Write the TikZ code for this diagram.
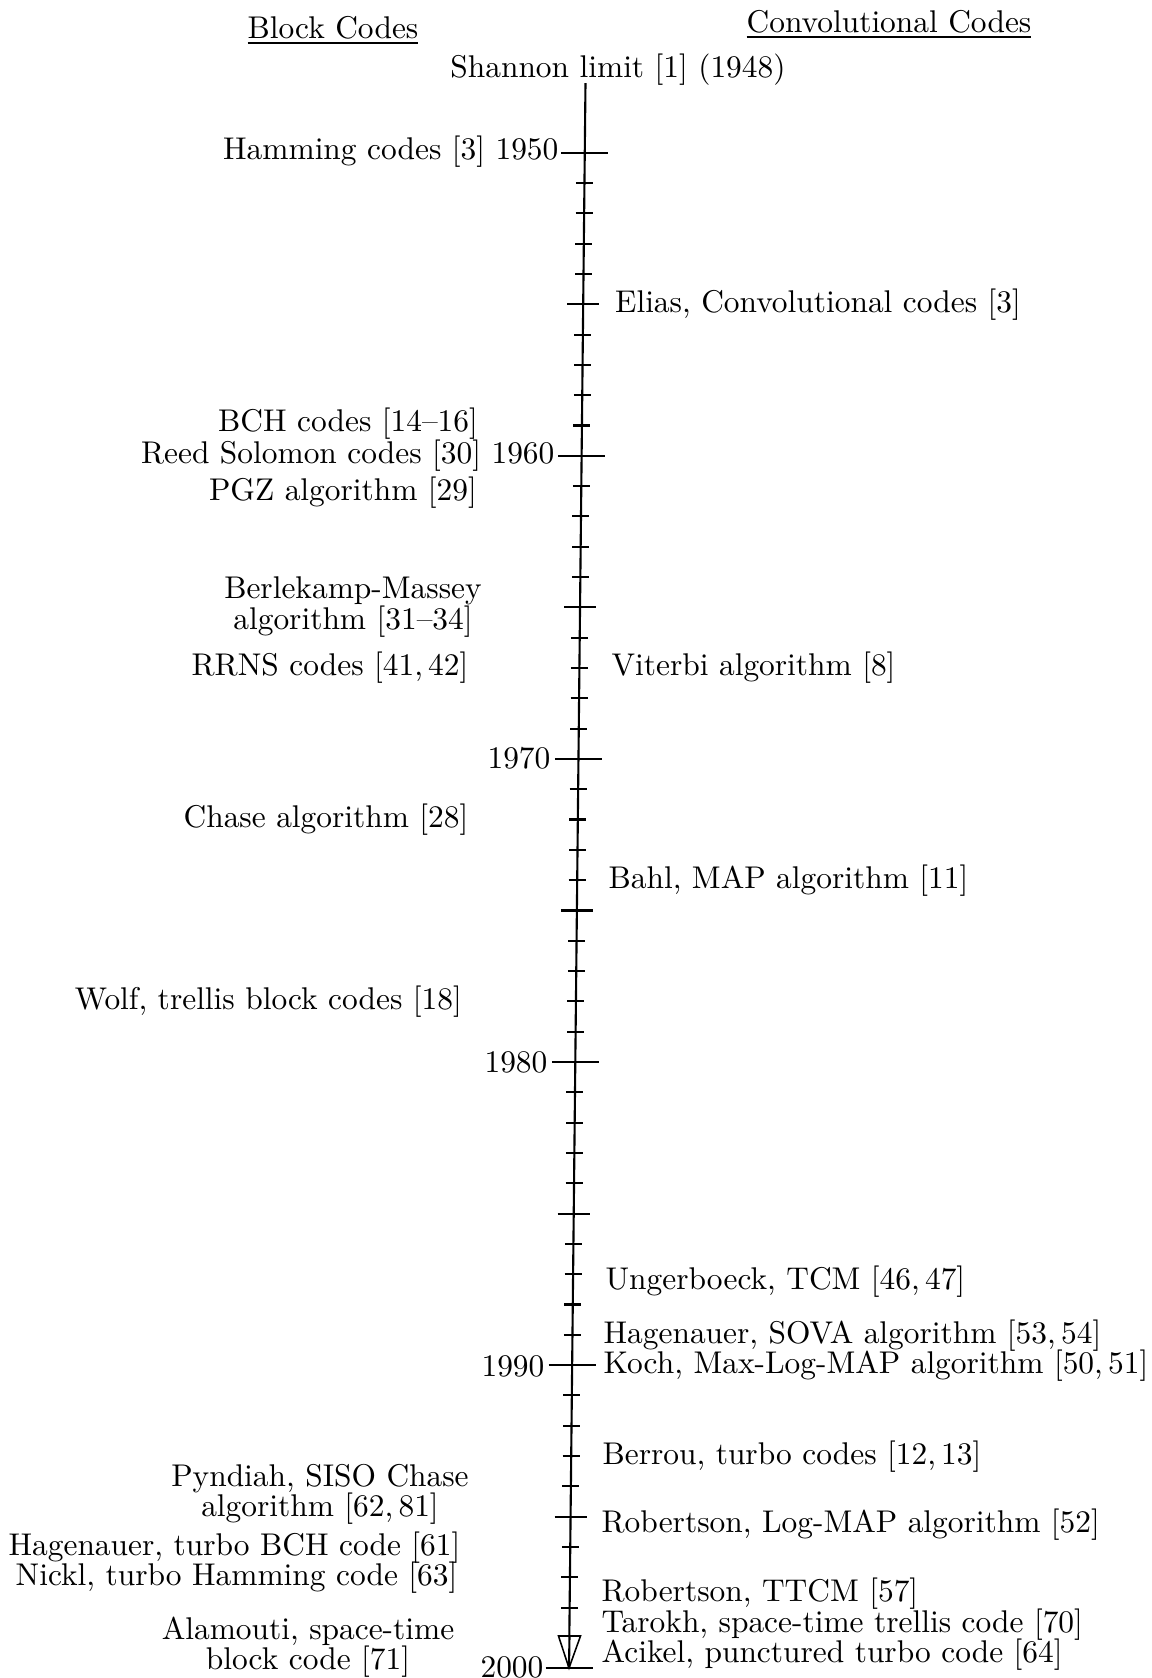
\documentclass[tikz,border=0pt]{standalone}
\usetikzlibrary{calc}
\begin{document}
\begin{tikzpicture}[x=0.3215pt,y=-0.3215pt,
  lbl/.style={inner sep=0pt, font=\fontsize{10.1}{12}\selectfont},
  lft/.style={lbl, anchor=east},
  rgt/.style={lbl, anchor=west},
  twoline/.style={inner sep=0pt, align=center, font=\fontsize{10.1}{9.7}\selectfont},
  axisline/.style={line width=0.68pt},
  tickline/.style={line width=0.68pt},
  headtri/.style={line width=0.5pt, fill=white}]
\useasboundingbox (0,0) rectangle (1152,1678);
% axis
\coordinate (top) at (585.5,83);
\coordinate (end) at (569,1668);
\draw[axisline] (top) -- (end);
\foreach \yr in {1950,...,2000}{
  \pgfmathsetmacro\yy{152.7+(\yr-1950)*30.31}
  \pgfmathsetmacro\xx{585.5-0.01041*(\yy-83)}
  \pgfmathsetmacro\tl{ifthenelse(mod(\yr,10)==0,23.5,ifthenelse(mod(\yr,5)==0,16,8.5))}
  \draw[tickline] (\xx-\tl,\yy) -- (\xx+\tl,\yy);
}
% arrow head
\coordinate (tb) at (569.5,1636);
\draw[headtri] ($(tb)+(-11,0)$) -- ($(tb)+(11,0)$) -- (end) -- cycle;
\draw[axisline] (tb) -- (end);
% headers
\node[lbl, anchor=base] (hblock) at (333,38) {\underline{Block Codes}};
\node[lbl, anchor=base] (hconv) at (889,32) {\underline{Convolutional Codes}};
\node[lbl, anchor=base] (shannon) at (618,77) {Shannon limit [1] (1948)};
% left labels
\node[lft] (hamming) at (559,152) {Hamming codes [3] 1950};
\node[lft] (bch) at (478.5,424) {BCH codes [14--16]};
\node[lft] (rs) at (555,456) {Reed Solomon codes [30] 1960};
\node[lft] (pgz) at (477.5,493) {PGZ algorithm [29]};
\node[twoline] (bm) at (353,607) {Berlekamp-Massey\\algorithm [31--34]};
\node[lft] (rrns) at (469,668) {RRNS codes [41,\,42]};
\node[lft] (y1970) at (551,758) {1970};
\node[lft] (chase) at (469,820) {Chase algorithm [28]};
\node[lft] (wolf) at (462.5,1002) {Wolf, trellis block codes [18]};
\node[lft] (y1980) at (548,1062) {1980};
\node[lft] (y1990) at (545,1366) {1990};
\node[twoline] (pyn) at (320,1494) {Pyndiah, SISO Chase\\algorithm [62,\,81]};
\node[lft] (hagbch) at (461,1548) {Hagenauer, turbo BCH code [61]};
\node[lft] (nickl) at (458,1578) {Nickl, turbo Hamming code [63]};
\node[twoline] (alam) at (308,1647) {Alamouti, space-time\\block code [71]};
\node[lft] (y2000) at (544,1667) {2000};
% right labels
\node[rgt] (elias) at (614.5,305) {Elias, Convolutional codes [3]};
\node[rgt] (viterbi) at (611,668) {Viterbi algorithm [8]};
\node[rgt] (bahl) at (608,881) {Bahl, MAP algorithm [11]};
\node[rgt] (unger) at (605,1282) {Ungerboeck, TCM [46,\,47]};
\node[rgt] (sova) at (603,1336) {Hagenauer, SOVA algorithm [53,\,54]};
\node[rgt] (koch) at (603,1366) {Koch, Max-Log-MAP algorithm [50,\,51]};
\node[rgt] (berrou) at (602,1457) {Berrou, turbo codes [12,\,13]};
\node[rgt] (logmap) at (601,1525) {Robertson, Log-MAP algorithm [52]};
\node[rgt] (ttcm) at (601,1594) {Robertson, TTCM [57]};
\node[rgt] (tarokh) at (601,1625) {Tarokh, space-time trellis code [70]};
\node[rgt] (acikel) at (601,1655) {Acikel, punctured turbo code [64]};
\end{tikzpicture}
\end{document}
